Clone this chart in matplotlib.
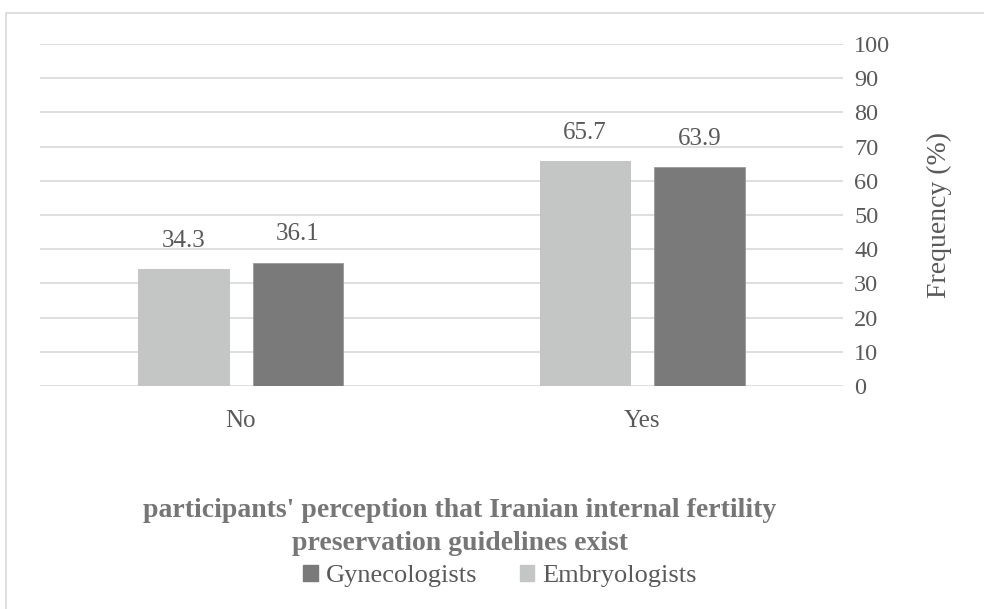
import numpy as np
import matplotlib
matplotlib.use('Agg')
import matplotlib.pyplot as plt
from matplotlib.patches import Rectangle

# data
categories = ['No', 'Yes']
embryologists = [34.3, 65.7]
gynecologists = [36.1, 63.9]
yticks = list(range(0, 101, 10))

plt.rcParams['font.family'] = ['Liberation Serif', 'DejaVu Serif']
txt = '#595959'
light = '#C4C6C5'
dark = '#7A7A7A'

fig = plt.figure(figsize=(9.84, 6.09), dpi=100)
ax = fig.add_axes([40/984, 1-386/609, 803/984, 342/609])

# outer border of the chart area
fig.patches.append(Rectangle((6/984, -0.1), 1.1, 1-13/609+0.1, transform=fig.transFigure,
                             fill=False, edgecolor='#D9D9D9', lw=1.2))

x = np.arange(len(categories))
w = 0.225
off = 0.1425
b1 = ax.bar(x - off, embryologists, w, color=light, edgecolor='#BFBFBF', lw=0.6, zorder=3)
b2 = ax.bar(x + off, gynecologists, w, color=dark, edgecolor='#9A9A9A', lw=0.6, zorder=3)

for bars, vals in [(b1, embryologists), (b2, gynecologists)]:
    for r, v in zip(bars, vals):
        ax.text(r.get_x() + r.get_width()/2, v + 5, f'{v:.1f}', ha='center', va='bottom',
                fontsize=18, color=txt)

ax.set_xlim(-0.5, 1.5)
ax.set_ylim(0, 100)
ax.yaxis.tick_right()
ax.yaxis.set_label_position('right')
ax.set_yticks(yticks)
ax.tick_params(axis='y', length=0, pad=8, labelsize=17.5, labelcolor=txt)
ax.set_xticks(x)
ax.set_xticklabels(categories)
ax.tick_params(axis='x', length=0, pad=17, labelsize=18, labelcolor=txt)
ax.grid(axis='y', color='#D9D9D9', lw=1.2, zorder=0)
for s in ax.spines.values():
    s.set_visible(False)
ax.set_ylabel('Frequency (%)', fontsize=20, color=txt, labelpad=26)

fig.text(460/984, 1-527/609, "participants' perception that Iranian internal fertility\npreservation guidelines exist",
         ha='center', va='center', fontsize=20, fontweight='bold', color='#767676', linespacing=1.4)

h1 = Rectangle((0, 0), 1, 1, color=dark)
h2 = Rectangle((0, 0), 1, 1, color=light)
fig.legend([h1, h2], ['Gynecologists', 'Embryologists'], loc='center', bbox_to_anchor=(500/984, 1-576/609),
           ncol=2, frameon=False, fontsize=19, labelcolor=txt, handlelength=0.55, handleheight=0.55,
           handletextpad=0.3, columnspacing=1.6, borderpad=0)

fig.savefig('out.png', dpi=100)
